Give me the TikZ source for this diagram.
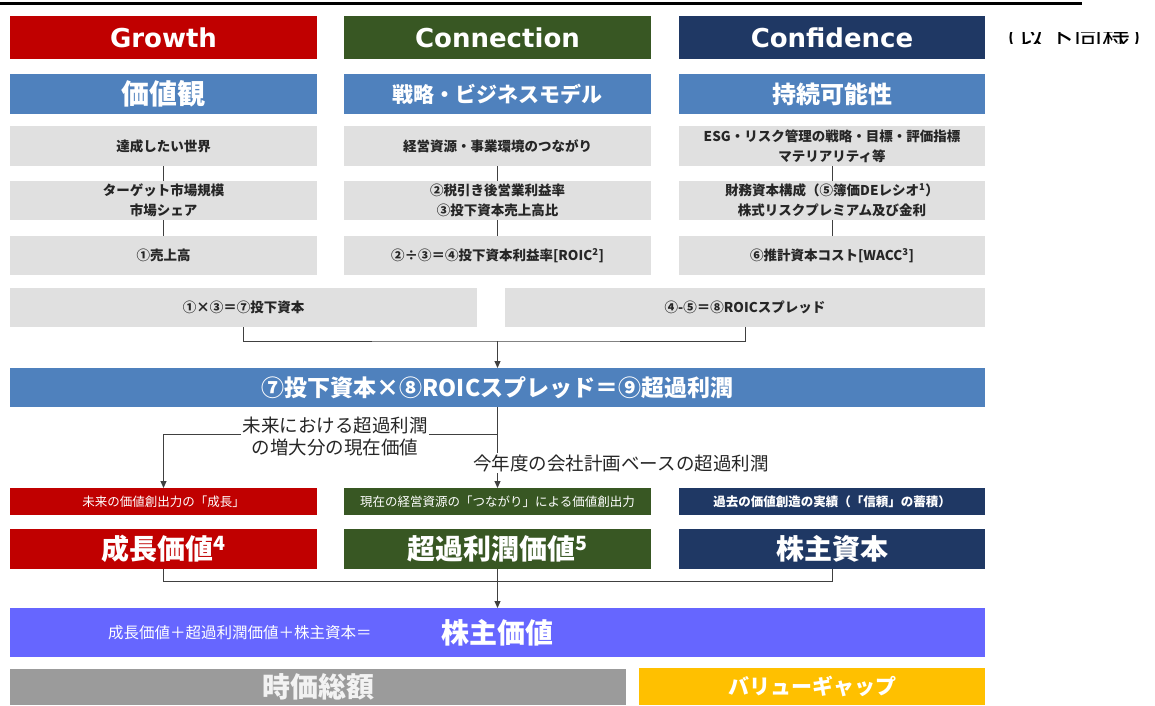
\documentclass[tikz,border=0pt]{standalone}
\usepackage{fontspec}
\setmainfont{Noto Sans CJK JP}
\newfontfamily\latfont{DejaVu Sans}
\usetikzlibrary{arrows.meta}
\definecolor{cRed}{HTML}{C00000}
\definecolor{cGreen}{HTML}{385723}
\definecolor{cNavy}{HTML}{1F3864}
\definecolor{cBlue}{HTML}{4F81BD}
\definecolor{cLight}{HTML}{E0E0E0}
\definecolor{cPurple}{HTML}{6666FF}
\definecolor{cGray}{HTML}{9B9B9B}
\definecolor{cYellow}{HTML}{FFC000}
\definecolor{cText}{HTML}{262626}
\definecolor{cLine}{HTML}{404040}
\newcommand\myfs[2]{\fontsize{#1}{#2}\selectfont}
\begin{document}
\begin{tikzpicture}[x=1pt,y=-1pt,
  box/.style={inner sep=0pt, outer sep=0pt, anchor=north west, align=center, text=white},
  hdr/.style={box, minimum width=307pt, minimum height=43pt, font=\latfont\bfseries\myfs{26}{30}},
  sub/.style={box, fill=cBlue, minimum width=307pt, minimum height=40pt},
  gbox/.style={box, fill=cLight, text=cText, minimum width=307pt, minimum height=39pt, font=\bfseries\myfs{13.5}{20}},
  desc/.style={box, minimum width=307pt, minimum height=27pt, font=\myfs{12.5}{15}},
  val/.style={box, minimum width=307pt, minimum height=40pt, font=\bfseries\myfs{28}{32}},
  conn/.style={draw=cLine, line width=1pt},
  arr/.style={-{Triangle[length=7pt,width=6pt]}},
  lab/.style={fill=white, inner sep=1.5pt, text=cText, align=center, font=\myfs{18.5}{22}}]
\useasboundingbox (0,0) rectangle (1155,705);

% top rule and clipped note
\draw[line width=3pt] (0,3) -- (1082,3);
\begin{scope}
  \clip (990,32.5) rectangle (1155,43.5);
  \node[inner sep=0pt, font=\myfs{28}{30}] (note) at (1074,38) {（以下同様）};
\end{scope}

% row 1
\node[hdr, fill=cRed] (h1) at (10,16) {Growth};
\node[hdr, fill=cGreen] (h2) at (344,16) {Connection};
\node[hdr, fill=cNavy, minimum width=306pt] (h3) at (679,16) {Confidence};

% row 2
\node[sub, font=\bfseries\myfs{28}{30}] (s1) at (10,74) {価値観};
\node[sub, font=\bfseries\myfs{21}{24}] (s2) at (344,74) {戦略・ビジネスモデル};
\node[sub, minimum width=306pt, font=\bfseries\myfs{24}{26}] (s3) at (679,74) {持続可能性};

% gray boxes
\node[gbox, minimum height=40pt] (g11) at (10,126) {達成したい世界};
\node[gbox] (g12) at (10,181) {ターゲット市場規模\\市場シェア};
\node[gbox] (g13) at (10,236) {①売上高};
\node[gbox, minimum height=40pt] (g21) at (344,126) {経営資源・事業環境のつながり};
\node[gbox] (g22) at (344,181) {②税引き後営業利益率\\③投下資本売上高比};
\node[gbox] (g23) at (344,236) {②÷③＝④投下資本利益率[ROIC\textsuperscript{2}]};
\node[gbox, minimum width=306pt, minimum height=40pt] (g31) at (679,126) {ESG・リスク管理の戦略・目標・評価指標\\マテリアリティ等};
\node[gbox, minimum width=306pt] (g32) at (679,181) {財務資本構成（⑤簿価DEレシオ\textsuperscript{1}）\\株式リスクプレミアム及び金利};
\node[gbox, minimum width=306pt] (g33) at (679,236) {⑥推計資本コスト[WACC\textsuperscript{3}]};
\foreach \c in {1,2,3}{
  \draw[conn] (g\c1.south) -- (g\c2.north);
  \draw[conn] (g\c2.south) -- (g\c3.north);
}

% row 6
\node[gbox, minimum width=467pt] (r6l) at (10,288) {①×③＝⑦投下資本};
\node[gbox, minimum width=480pt] (r6r) at (505,288) {④-⑤＝⑧ROICスプレッド};
\coordinate (j1) at (497.5,341);
\draw[conn] (r6l.south) |- (j1) -| (r6r.south);

% blue bar
\node[box, fill=cBlue, minimum width=975pt, minimum height=39pt, font=\bfseries\myfs{23}{26}] (bl) at (10,368) {⑦投下資本×⑧ROICスプレッド＝⑨超過利潤};
\draw[conn, arr] (j1) -- (bl.north);

% descriptors
\node[desc, fill=cRed] (d1) at (10,488) {未来の価値創出力の「成長」};
\node[desc, fill=cGreen] (d2) at (344,488) {現在の経営資源の「つながり」による価値創出力};
\node[desc, fill=cNavy, minimum width=306pt, font=\bfseries\myfs{12.5}{15}] (d3) at (679,488) {過去の価値創造の実績（「信頼」の蓄積）};
\coordinate (j2) at (497.5,434);
\draw[conn, arr] (bl.south) -- (d2.north);
\draw[conn, arr] (j2) -| (d1.north);
\node[lab] (lab1) at (335,437) {未来における超過利潤\\の増大分の現在価値};
\node[lab] (lab2) at (621,463) {今年度の会社計画ベースの超過利潤};

% values
\node[val, fill=cRed] (v1) at (10,529) {成長価値\textsuperscript{4}};
\node[val, fill=cGreen] (v2) at (344,529) {超過利潤価値\textsuperscript{5}};
\node[val, fill=cNavy, minimum width=306pt] (v3) at (679,529) {株主資本};
\coordinate (j3) at (497.5,581);
\draw[conn] (v1.south) |- (j3) -| (v3.south);

% purple bar
\node[box, fill=cPurple, minimum width=975pt, minimum height=49pt, font=\bfseries\myfs{28}{32}] (pv) at (10,608) {株主価値};
\node[anchor=west, inner sep=0pt, text=white, font=\myfs{15.5}{18}] (pvl) at (108,633) {成長価値＋超過利潤価値＋株主資本＝};
\draw[conn, arr] (v2.south) -- (pv.north);

% bottom
\node[box, fill=cGray, text=white!95!black, minimum width=616pt, minimum height=36pt, font=\bfseries\myfs{28}{32}] (mc) at (10,669) {時価総額};
\node[box, fill=cYellow, minimum width=346pt, minimum height=37pt, font=\bfseries\myfs{21}{24}] (gap) at (639,668) {バリューギャップ};
\end{tikzpicture}
\end{document}
